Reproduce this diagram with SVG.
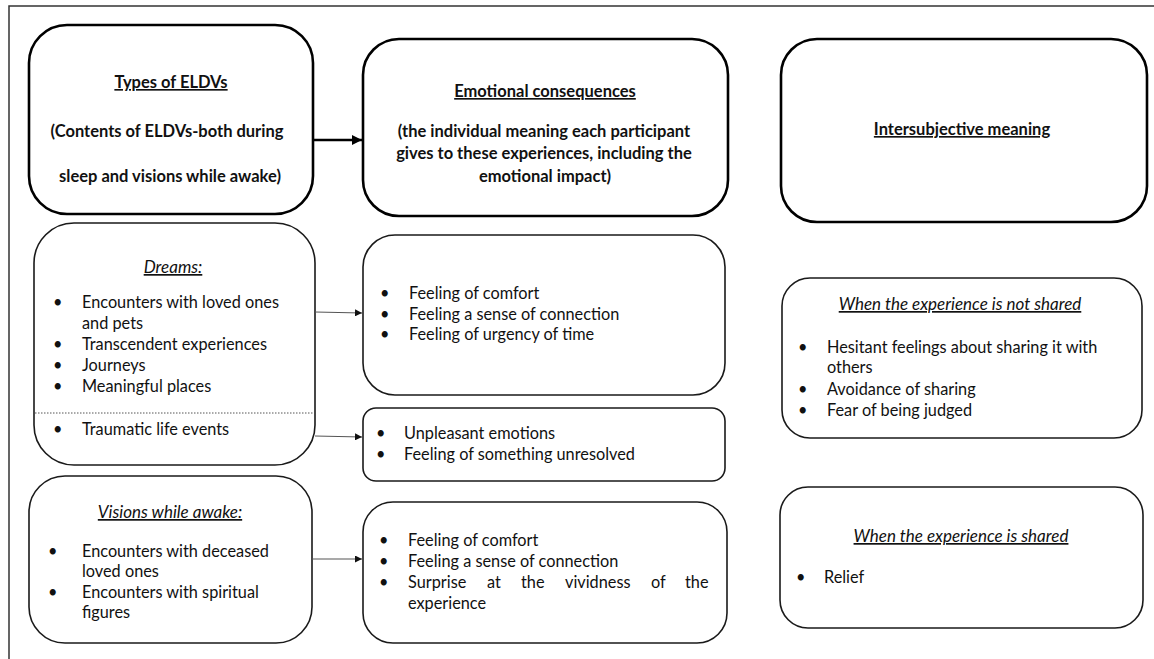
<svg xmlns="http://www.w3.org/2000/svg" width="1154" height="659" viewBox="0 0 1154 659">
<style>
.bg{fill:#fff}
.frame{fill:none;stroke:#333;stroke-width:1.5}
.hbox{fill:#fff;stroke:#000;stroke-width:2.6}
.box{fill:#fff;stroke:#1a1a1a;stroke-width:1.6}
.t{font-family:Lato,"Liberation Sans",Arial,sans-serif;font-size:16.3px;fill:#111}
.h{font-family:Lato,"Liberation Sans",Arial,sans-serif;font-size:16.5px;font-weight:bold;fill:#111;text-anchor:middle}
.u{text-decoration:underline}
.i{font-style:italic;text-anchor:middle;font-size:17px}
.c{fill:none;stroke:#555;stroke-width:1.1}
.ct{fill:none;stroke:#000;stroke-width:2.6}
.dot{stroke:#555;stroke-width:1;stroke-dasharray:1.5 1.5}
</style>
<defs>
<marker id="ah" viewBox="0 0 10 10" refX="10" refY="5" markerWidth="7" markerHeight="7" markerUnits="userSpaceOnUse" orient="auto">
<path d="M0,0L10,5L0,10z" fill="#111"/>
</marker>
<marker id="ahb" viewBox="0 0 10 10" refX="10" refY="5" markerWidth="11" markerHeight="10" markerUnits="userSpaceOnUse" orient="auto">
<path d="M0,0L10,5L0,10z" fill="#000"/>
</marker>
</defs>
<rect class="bg" x="0" y="0" width="1154" height="659"/>
<path class="frame" d="M9,659V6H1154"/>

<g id="n-types">
<rect class="hbox" x="29" y="25" width="284" height="189" rx="38"/>
<text class="h u" x="171" y="88">Types of ELDVs</text>
<text class="h" x="167" y="137">(Contents of ELDVs-both during</text>
<text class="h" x="170" y="182">sleep and visions while awake)</text>
</g>

<g id="n-emo">
<rect class="hbox" x="363" y="39" width="365" height="177" rx="36"/>
<text class="h u" x="545" y="97">Emotional consequences</text>
<text class="h" x="544" y="137">(the individual meaning each participant</text>
<text class="h" x="544" y="159">gives to these experiences, including the</text>
<text class="h" x="545" y="182">emotional impact)</text>
</g>

<g id="n-inter">
<rect class="hbox" x="781" y="39" width="366" height="183" rx="36"/>
<text class="h u" x="962" y="135">Intersubjective meaning</text>
</g>

<g id="n-dreams">
<rect class="box" x="34" y="223" width="281" height="242" rx="40"/>
<text class="t i u" x="173" y="273">Dreams:</text>
<text class="t" x="53" y="308">•</text><text class="t" x="82" y="308">Encounters with loved ones</text>
<text class="t" x="82" y="329">and pets</text>
<text class="t" x="53" y="350">•</text><text class="t" x="82" y="350">Transcendent experiences</text>
<text class="t" x="53" y="371">•</text><text class="t" x="82" y="371">Journeys</text>
<text class="t" x="53" y="392">•</text><text class="t" x="82" y="392">Meaningful places</text>
<line class="dot" x1="35" y1="413" x2="314" y2="413"/>
<text class="t" x="53" y="435">•</text><text class="t" x="82" y="435">Traumatic life events</text>
</g>

<g id="n-feel1">
<rect class="box" x="363" y="235" width="362" height="160" rx="32"/>
<text class="t" x="380" y="299">•</text><text class="t" x="409" y="299">Feeling of comfort</text>
<text class="t" x="380" y="320">•</text><text class="t" x="409" y="320">Feeling a sense of connection</text>
<text class="t" x="380" y="340">•</text><text class="t" x="409" y="340">Feeling of urgency of time</text>
</g>

<g id="n-feel2">
<rect class="box" x="363" y="408" width="362" height="73" rx="13"/>
<text class="t" x="376" y="439">•</text><text class="t" x="404" y="439">Unpleasant emotions</text>
<text class="t" x="376" y="460">•</text><text class="t" x="404" y="460">Feeling of something unresolved</text>
</g>

<g id="n-visions">
<rect class="box" x="29" y="476" width="283" height="167" rx="36"/>
<text class="t i u" x="170" y="518">Visions while awake:</text>
<text class="t" x="48" y="557">•</text><text class="t" x="82" y="557">Encounters with deceased</text>
<text class="t" x="82" y="577">loved ones</text>
<text class="t" x="48" y="598">•</text><text class="t" x="82" y="598">Encounters with spiritual</text>
<text class="t" x="82" y="618">figures</text>
</g>

<g id="n-feel3">
<rect class="box" x="363" y="502" width="364" height="141" rx="30"/>
<text class="t" x="379" y="546">•</text><text class="t" x="408" y="546">Feeling of comfort</text>
<text class="t" x="379" y="567">•</text><text class="t" x="408" y="567">Feeling a sense of connection</text>
<text class="t" x="379" y="588">•</text><text class="t" y="588"><tspan x="408">Surprise</tspan><tspan x="487">at</tspan><tspan x="521">the</tspan><tspan x="565">vividness</tspan><tspan x="651">of</tspan><tspan x="685">the</tspan></text>
<text class="t" x="408" y="609">experience</text>
</g>

<g id="n-notshared">
<rect class="box" x="782" y="278" width="360" height="160" rx="28"/>
<text class="t i u" x="960" y="310">When the experience is not shared</text>
<text class="t" x="798" y="353">•</text><text class="t" x="827" y="353">Hesitant feelings about sharing it with</text>
<text class="t" x="827" y="373">others</text>
<text class="t" x="798" y="395">•</text><text class="t" x="827" y="395">Avoidance of sharing</text>
<text class="t" x="798" y="416">•</text><text class="t" x="827" y="416">Fear of being judged</text>
</g>

<g id="n-shared">
<rect class="box" x="780" y="487" width="363" height="141" rx="28"/>
<text class="t i u" x="961" y="542">When the experience is shared</text>
<text class="t" x="796" y="583">•</text><text class="t" x="824" y="583">Relief</text>
</g>

<g id="connectors">
<line class="ct" x1="313" y1="140" x2="362" y2="140" marker-end="url(#ahb)"/>
<line class="c" x1="315" y1="312" x2="362" y2="313" marker-end="url(#ah)"/>
<line class="c" x1="315" y1="436" x2="362" y2="437" marker-end="url(#ah)"/>
<line class="c" x1="312" y1="559" x2="362" y2="559" marker-end="url(#ah)"/>
</g>
</svg>
